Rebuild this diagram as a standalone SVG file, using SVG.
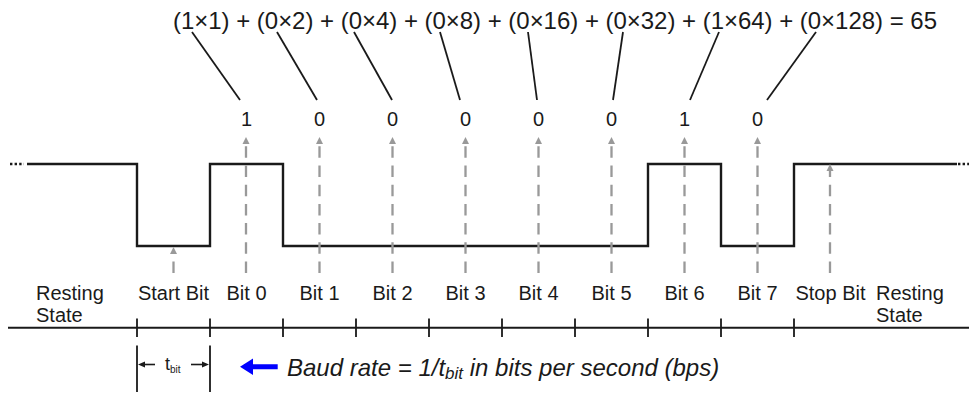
<svg xmlns="http://www.w3.org/2000/svg" width="969" height="393" viewBox="0 0 969 393">
<defs>
<style>
text{font-family:"Liberation Sans",Arial,sans-serif;fill:#1a1a1a}
.lbl{font-size:20px}
.mid{text-anchor:middle}
.sig{fill:none;stroke:#1a1a1a;stroke-width:2.4;stroke-linejoin:miter}
.dots{fill:none;stroke:#1a1a1a;stroke-width:2.4;stroke-dasharray:2.4 2.2}
.dash{fill:none;stroke:#999;stroke-width:2.3;stroke-dasharray:11.5 7.7;marker-end:url(#gh)}
.lead{fill:none;stroke:#1a1a1a;stroke-width:1.8}
.axis{fill:none;stroke:#1a1a1a;stroke-width:2}
.tick{fill:none;stroke:#1a1a1a;stroke-width:1.8}
.dim{fill:none;stroke:#1a1a1a;stroke-width:1.6;marker-end:url(#bh)}
</style>
<marker id="gh" markerUnits="userSpaceOnUse" markerWidth="8" markerHeight="8" refX="0" refY="3.5" orient="auto" viewBox="0 0 8 7">
<path d="M0,0 L7,3.5 L0,7 z" fill="#999"/>
</marker>
<marker id="bh" markerUnits="userSpaceOnUse" markerWidth="8" markerHeight="8" refX="0" refY="3" orient="auto" viewBox="0 0 8 6">
<path d="M0,0 L7,3 L0,6 z" fill="#1a1a1a"/>
</marker>
</defs>
<rect width="969" height="393" fill="#fff"/>

<g id="formula">
<text x="173" y="29" font-size="24" textLength="764" lengthAdjust="spacing">(1×1) + (0×2) + (0×4) + (0×8) + (0×16) + (0×32) + (1×64) + (0×128) = 65</text>
</g>

<g id="bit-values" class="lbl">
<text class="lbl mid" x="246.5" y="126">1</text>
<text class="lbl mid" x="319.5" y="126">0</text>
<text class="lbl mid" x="392.5" y="126">0</text>
<text class="lbl mid" x="465.5" y="126">0</text>
<text class="lbl mid" x="538.5" y="126">0</text>
<text class="lbl mid" x="611.5" y="126">0</text>
<text class="lbl mid" x="684.5" y="126">1</text>
<text class="lbl mid" x="757.5" y="126">0</text>
</g>

<g id="signal">
<path class="dots" d="M10,164 H24"/>
<path class="sig" d="M27,164 H137 V246 H210 V164 H283 V246 H648 V164 H721 V246 H794 V164 H957"/>
<path class="dots" d="M958,164 H969"/>
</g>

<g id="connectors">
<g id="leaders">
<line class="lead" x1="192" y1="32" x2="240" y2="100"/>
<line class="lead" x1="277" y1="32" x2="317" y2="100"/>
<line class="lead" x1="354" y1="32" x2="392" y2="100"/>
<line class="lead" x1="440" y1="32" x2="460" y2="100"/>
<line class="lead" x1="528" y1="32" x2="537" y2="100"/>
<line class="lead" x1="623" y1="32" x2="613" y2="100"/>
<line class="lead" x1="719" y1="32" x2="690" y2="100"/>
<line class="lead" x1="816" y1="32" x2="767" y2="100"/>
</g>
<g id="sample-arrows">
<path class="dash" d="M173.5,273 V254"/>
<path class="dash" d="M246,273 V144"/>
<path class="dash" d="M319.5,273 V144"/>
<path class="dash" d="M392.5,273 V144"/>
<path class="dash" d="M465.5,273 V144"/>
<path class="dash" d="M538.5,273 V144"/>
<path class="dash" d="M611.5,273 V144"/>
<path class="dash" d="M684.5,273 V144"/>
<path class="dash" d="M757.5,273 V144"/>
<path class="dash" d="M830,273 V171"/>
</g>
</g>

<g id="labels">
<text class="lbl" x="36" y="300">Resting</text>
<text class="lbl" x="36" y="322">State</text>
<text class="lbl mid" x="173.5" y="300">Start Bit</text>
<text class="lbl mid" x="246.5" y="300">Bit 0</text>
<text class="lbl mid" x="319.5" y="300">Bit 1</text>
<text class="lbl mid" x="392.5" y="300">Bit 2</text>
<text class="lbl mid" x="465.5" y="300">Bit 3</text>
<text class="lbl mid" x="538.5" y="300">Bit 4</text>
<text class="lbl mid" x="611.5" y="300">Bit 5</text>
<text class="lbl mid" x="684.5" y="300">Bit 6</text>
<text class="lbl mid" x="757.5" y="300">Bit 7</text>
<text class="lbl mid" x="830.5" y="300">Stop Bit</text>
<text class="lbl" x="876" y="300">Resting</text>
<text class="lbl" x="876" y="322">State</text>
</g>

<g id="time-axis">
<path class="axis" d="M8,327.7 H969"/>
<path class="tick" d="M137,318.5 V337 M210,318.5 V337 M283,318.5 V337 M356,318.5 V337 M429,318.5 V337 M502,318.5 V337 M575,318.5 V337 M648,318.5 V337 M721,318.5 V337 M794,318.5 V337"/>
</g>

<g id="tbit">
<path class="tick" d="M137,345.5 V392 M210,345.5 V392"/>
<path class="dim" d="M155,364.5 H145"/>
<path class="dim" d="M191,364.5 H202"/>
<text x="165" y="370" font-size="18">t<tspan font-size="10" dy="3">bit</tspan></text>
</g>

<g id="baud">
<path d="M240,366.7 L253,358.5 L253,364.2 L277.7,364.2 L277.7,369.2 L253,369.2 L253,374.9 Z" fill="#0000ff"/>
<text x="287" y="376" font-size="24" font-style="italic">Baud rate = 1/t<tspan font-size="17" dy="3">bit</tspan><tspan dy="-3"> in bits per second (bps)</tspan></text>
</g>
</svg>
